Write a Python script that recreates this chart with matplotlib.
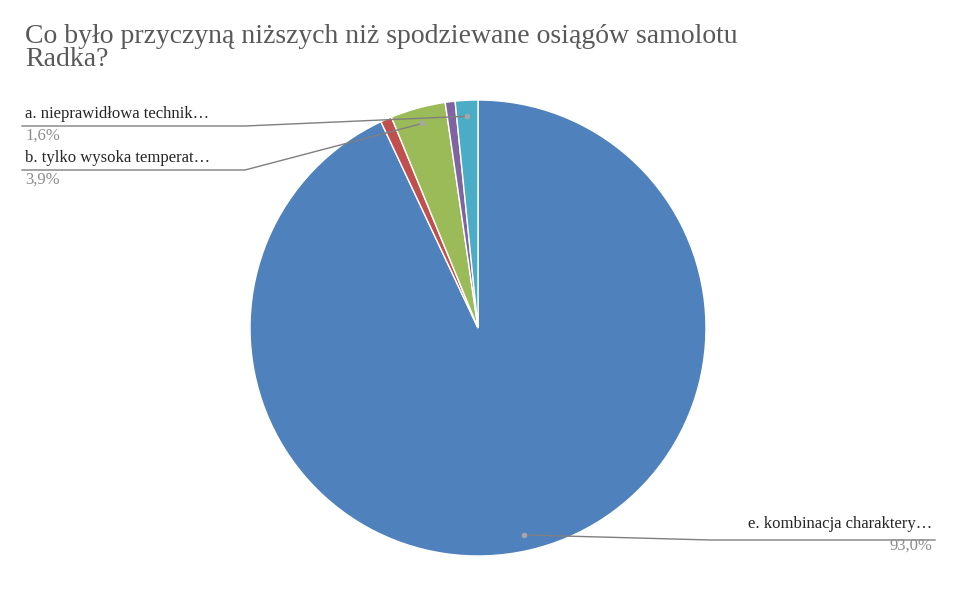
import matplotlib
matplotlib.use("Agg")
import matplotlib.pyplot as plt
import numpy as np
from matplotlib.lines import Line2D

labels = ["e. kombinacja charaktery…", "c", "b. tylko wysoka temperat…", "d", "a. nieprawidłowa technik…"]
values = [93.0, 0.8, 3.9, 0.7, 1.6]
pct_text = ["93,0%", "", "3,9%", "", "1,6%"]
colors = ["#4f81bd", "#c0504d", "#9bbb59", "#8064a2", "#4bacc6"]

W, H = 976, 593
fig = plt.figure(figsize=(W/100, H/100), dpi=100)
plt.rcParams['font.family'] = ['Liberation Serif', 'DejaVu Serif']
ax = fig.add_axes([(478-228)/W, 1-(328+228)/H, 456/W, 456/H])
wedges, _ = ax.pie(values, colors=colors, startangle=90, counterclock=False,
                   wedgeprops=dict(edgecolor='white', linewidth=1), radius=1)
ax.set_xlim(-1, 1); ax.set_ylim(-1, 1); ax.set_aspect('auto'); ax.axis('off')

fig.text(25/W, 1-48/H, "Co było przyczyną niższych niż spodziewane osiągów samolotu\nRadka?",
         fontsize=20, color='#595959', va='center', ha='left', linespacing=0.9)

def to_px(x, y):
    return 478 + x*228, 328 - y*228

def anchor(i, r):
    w = wedges[i]
    a = np.deg2rad((w.theta1 + w.theta2)/2)
    return to_px(r*np.cos(a), r*np.sin(a))

def f(x, y):
    return x/W, 1-y/H

specs = [
    # idx, text x, text y, ha, underline x0, x1, y, anchor radius
    (4, 25, 114, 'left', 22, 245, 126, 0.93),
    (2, 25, 158, 'left', 22, 245, 170, 0.93),
    (0, 932, 524, 'right', 710, 935, 540, 0.93),
]
for idx, tx, ty, ha, x0, x1, uy, r in specs:
    px, py = anchor(idx, r)
    fig.text(*f(tx, ty), labels[idx], fontsize=12, color='#262626', ha=ha, va='center')
    fig.text(*f(tx, ty+22), pct_text[idx], fontsize=12, color='#8c8c8c', ha=ha, va='center')
    if ha == 'left':
        xs = [x0, x1, px]; ys = [uy, uy, py]
    else:
        xs = [x1, x0, px]; ys = [uy, uy, py]
    fig.add_artist(Line2D([v/W for v in xs], [1-v/H for v in ys], color='#7f7f7f', lw=1))
    fig.add_artist(Line2D([px/W], [1-py/H], marker='o', ms=3, color='#a6a6a6', lw=0))

fig.savefig("out.png", dpi=100)
